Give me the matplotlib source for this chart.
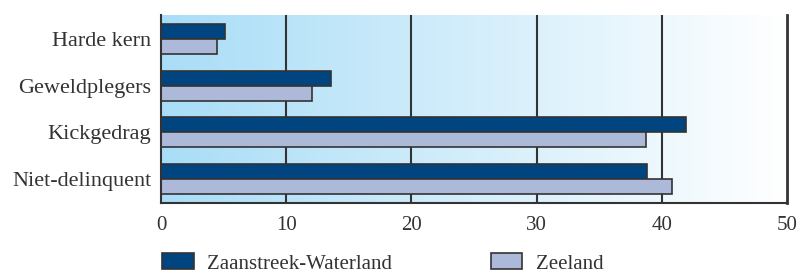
import numpy as np
import matplotlib
matplotlib.use("Agg")
from matplotlib import pyplot as plt
from matplotlib.patches import Patch
from matplotlib.colors import LinearSegmentedColormap

# categorieen van boven naar beneden
categories = ["Harde kern", "Geweldplegers", "Kickgedrag", "Niet-delinquent"]
zaanstreek = [5.1, 13.6, 41.9, 38.8]
zeeland = [4.5, 12.1, 38.7, 40.8]
series_names = ["Zaanstreek-Waterland", "Zeeland"]
xticks = [0, 10, 20, 30, 40, 50]

dark = "#00457f"
light = "#adb9d9"
edge = "#333333"
txt = "#333333"

plt.rcParams['font.family'] = ['Liberation Serif', 'DejaVu Serif']

fig = plt.figure(figsize=(7.99, 2.75), dpi=100)
ax = fig.add_axes([161 / 799, 72 / 275, 626 / 799, 188 / 275])

# achtergrond met kleurverloop (lichtblauw -> wit)
grad = LinearSegmentedColormap.from_list("bg", ["#a9ddf7", "#ffffff"])
ax.imshow(np.linspace(0, 1, 256).reshape(1, -1), cmap=grad, aspect="auto",
          extent=(0, 50, 3.51, -0.51), zorder=0)

y = np.arange(len(categories))
h = 0.32
ax.barh(y - h / 2, zaanstreek, height=h, color=dark, edgecolor=edge, linewidth=1.2, zorder=2)
ax.barh(y + h / 2, zeeland, height=h, color=light, edgecolor=edge, linewidth=1.2, zorder=2)

ax.set_xlim(0, 50)
ax.set_ylim(3.51, -0.51)
ax.set_xticks(xticks)
ax.set_xticklabels([str(t) for t in xticks])
ax.set_yticks(y)
ax.set_yticklabels(categories)

for x in xticks[1:-1]:
    ax.axvline(x, color=edge, linewidth=1.5, zorder=1)

ax.spines['top'].set_visible(False)
for s in ['left', 'right', 'bottom']:
    ax.spines[s].set_color(edge)
    ax.spines[s].set_linewidth(1.5)
    ax.spines[s].set_zorder(3)
ax.spines['right'].set_linewidth(2)

ax.tick_params(axis='x', length=0, pad=9, labelsize=15, labelcolor=txt)
ax.tick_params(axis='y', direction='in', length=11, width=1.8, color='#111111',
               pad=7, labelsize=16, labelcolor=txt)

handles = [Patch(facecolor=dark, edgecolor=edge, linewidth=1.2),
           Patch(facecolor=light, edgecolor=edge, linewidth=1.2)]
leg = fig.legend(handles, series_names, loc='lower left', ncol=2,
                 bbox_to_anchor=(154 / 799, -0.025), frameon=False, fontsize=15,
                 handlelength=1.5, handleheight=0.8, handletextpad=0.65,
                 columnspacing=4.75, borderaxespad=0)
for t in leg.get_texts():
    t.set_color(txt)

fig.savefig("out.png", dpi=100)
